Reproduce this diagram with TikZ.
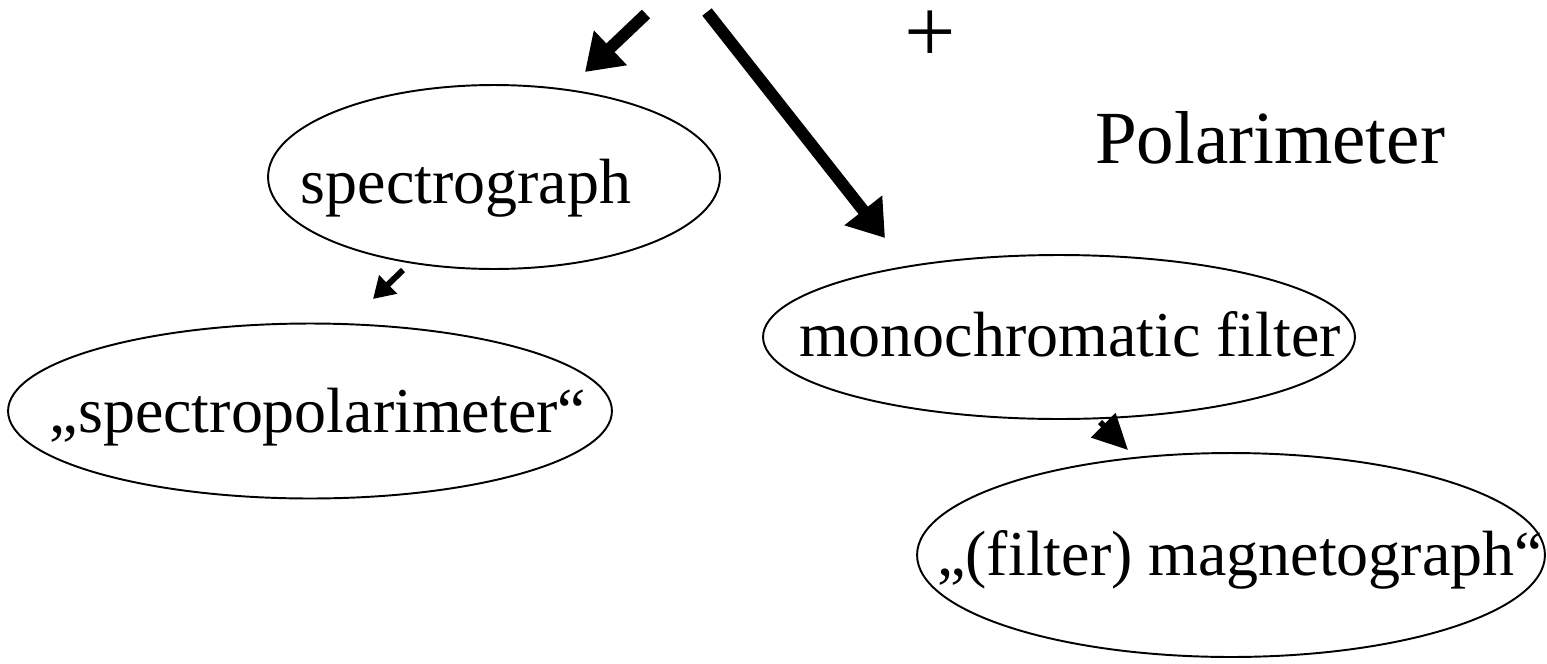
\documentclass[tikz,border=0pt]{standalone}
\usepackage{fontspec}
\setmainfont{Liberation Serif}
\usetikzlibrary{arrows.meta, shapes.geometric}
\tikzset{x = 0.02cm, y = -0.02cm,
         blob/.style = {ellipse, draw, line width = 1.1pt, inner sep = 0pt},
         txt/.style = {anchor = base, inner sep = 0pt,
                       font = \fontsize{36.4}{40}\selectfont},
         fat/.style = {line width = 6.8pt,
                       -{Triangle[length = 20pt, width = 26pt]}},
         slim/.style = {line width = 3.4pt,
                        -{Triangle[length = 12pt, width = 14pt]}}}

\begin{document}
\begin{tikzpicture}
  \useasboundingbox (0,0) rectangle (1547,663);

  % ellipses
  \node[blob, minimum width = 9.04cm, minimum height = 3.68cm]  (spectro)  at (494,177)  {};
  \node[blob, minimum width = 12.08cm, minimum height = 3.5cm]  (specpol)  at (310,411)  {};
  \node[blob, minimum width = 11.84cm, minimum height = 3.28cm] (monofilt) at (1059,337) {};
  \node[blob, minimum width = 12.56cm, minimum height = 4.08cm] (magneto)  at (1231,555) {};

  % texts
  \node[txt] (spectro-t)  at (466,203)  {spectrograph};
  \node[txt] (specpol-t)  at (318,432)  {„spectropolarimeter“};
  \node[txt] (monofilt-t) at (1070,356) {monochromatic filter};
  \node[txt] (magneto-t)  at (1240,575) {„(filter) magnetograph“};
  \node[txt, font = \fontsize{42.7}{46}\selectfont] (polar) at (1270,163) {Polarimeter};
  \node[inner sep = 0pt, font = \fontsize{52}{56}\selectfont] (plus) at (930,37) {+};

  % arrows
  \coordinate (a1s) at (646,14);   \coordinate (a1e) at (585,72);
  \coordinate (a2s) at (707,12);   \coordinate (a2e) at (885,238);
  \coordinate (a3s) at (403,270);  \coordinate (a3e) at (373,299);
  \coordinate (a4s) at (1100,422); \coordinate (a4e) at (1128,450);

  \draw[fat]  (a1s) -- (a1e);
  \draw[fat]  (a2s) -- (a2e);
  \draw[slim] (a3s) -- (a3e);
  \draw[slim, -{Triangle[length = 20pt, width = 19pt]}] (a4s) -- (a4e);
\end{tikzpicture}
\end{document}
